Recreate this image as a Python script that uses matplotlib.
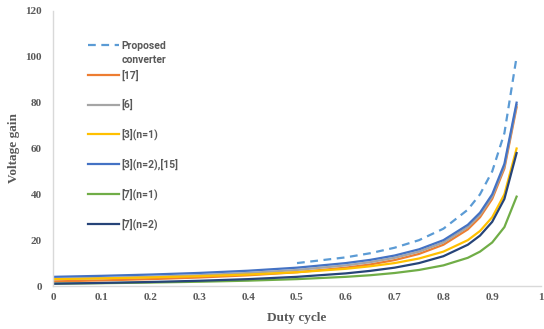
import matplotlib
matplotlib.use("Agg")
import matplotlib.pyplot as plt

duty = [0, 0.1, 0.2, 0.3, 0.4, 0.5, 0.6, 0.65, 0.7, 0.75, 0.8, 0.85, 0.875, 0.9, 0.925, 0.95]
duty_prop = [0.5, 0.6, 0.65, 0.7, 0.75, 0.8, 0.85, 0.875, 0.9, 0.925, 0.95]

proposed = [10, 12.5, 14.3, 16.7, 20, 25, 33.3, 40, 50, 66.7, 100]
ref17 = [2, 2.44, 3, 3.71, 4.67, 6, 8, 9.4, 11.3, 14, 18, 24.7, 30, 38, 51.3, 78]
ref6 = [3, 3.44, 4, 4.71, 5.67, 7, 9, 10.4, 12.3, 15, 19, 25.7, 31, 39, 52.3, 79]
ref3_n1 = [3, 3.33, 3.75, 4.29, 5, 6, 7.5, 8.6, 10, 12, 15, 20, 24, 30, 40, 60]
ref3_n2 = [4, 4.44, 5, 5.71, 6.67, 8, 10, 11.4, 13.3, 16, 20, 26.7, 32, 40, 53.3, 80]
ref7_n1 = [1, 1.22, 1.5, 1.86, 2.33, 3, 4, 4.7, 5.67, 7, 9, 12.3, 15, 19, 25.7, 39]
ref7_n2 = [1, 1.33, 1.75, 2.29, 3, 4, 5.5, 6.6, 8, 10, 13, 18, 22, 28, 38, 58]

labels = ["Proposed", "[17]", "[6]", "[3](n=1)", "[3](n=2),[15]", "[7](n=1)", "[7](n=2)"]
xticks = [0, 0.1, 0.2, 0.3, 0.4, 0.5, 0.6, 0.7, 0.8, 0.9, 1]
xticklabels = ["0", "0.1", "0.2", "0.3", "0.4", "0.5", "0.6", "0.7", "0.8", "0.9", "1"]
yticks = [0, 20, 40, 60, 80, 100, 120]

fig = plt.figure(figsize=(5.44, 3.29), dpi=100)
ax = fig.add_axes([53/544, 1-286/329, (541-53)/544, (286-11)/329])

lw = 1.6
h = []
h.append(ax.plot(duty_prop, proposed, color="#5B9BD5", lw=lw, ls=(0, (3.5, 2.5)))[0])
h.append(ax.plot(duty, ref17, color="#ED7D31", lw=lw)[0])
h.append(ax.plot(duty, ref6, color="#A5A5A5", lw=lw)[0])
h.append(ax.plot(duty, ref3_n1, color="#FFC000", lw=lw)[0])
h.append(ax.plot(duty, ref3_n2, color="#4472C4", lw=lw)[0])
h.append(ax.plot(duty, ref7_n1, color="#70AD47", lw=lw)[0])
h.append(ax.plot(duty, ref7_n2, color="#264478", lw=lw)[0])

ax.set_xlim(0, 1)
ax.set_ylim(0, 120)
ax.set_xticks(xticks)
ax.set_xticklabels(xticklabels)
ax.set_yticks(yticks)
for s in ["top", "right"]:
    ax.spines[s].set_visible(False)
for s in ["left", "bottom"]:
    ax.spines[s].set_color("#D9D9D9")
    ax.spines[s].set_linewidth(1)
ax.tick_params(length=0)
ax.tick_params(axis="y", pad=8)
ax.tick_params(axis="x", pad=5)
for t in ax.get_xticklabels() + ax.get_yticklabels():
    t.set_fontfamily("Liberation Serif")
    t.set_fontweight("bold")
    t.set_fontsize(8)
    t.set_color("#595959")

ax.set_xlabel("Duty cycle", fontfamily="Liberation Serif", fontweight="bold",
              fontsize=9.5, color="#595959", labelpad=7)
ax.set_ylabel("Voltage gain", fontfamily="Liberation Serif", fontweight="bold",
              fontsize=9.5, color="#595959", labelpad=4)

lp = {"family": "Roboto", "weight": "bold", "size": 7.5}
leg = fig.legend(h, labels, loc="upper left", bbox_to_anchor=(88/544, 1-41/329),
                 frameon=False, borderpad=0, borderaxespad=0, handlelength=3.0,
                 handletextpad=0.25, labelspacing=1.77, prop=lp)
for t in leg.get_texts():
    t.set_color("#595959")

fig.canvas.draw()
tb = leg.get_texts()[0].get_window_extent(fig.canvas.get_renderer())
fig.text(tb.x0/544, (tb.y0 - 14)/329, "converter", fontproperties=matplotlib.font_manager.FontProperties(**lp),
         color="#595959", va="bottom", ha="left")

fig.savefig("out.png", dpi=100)
